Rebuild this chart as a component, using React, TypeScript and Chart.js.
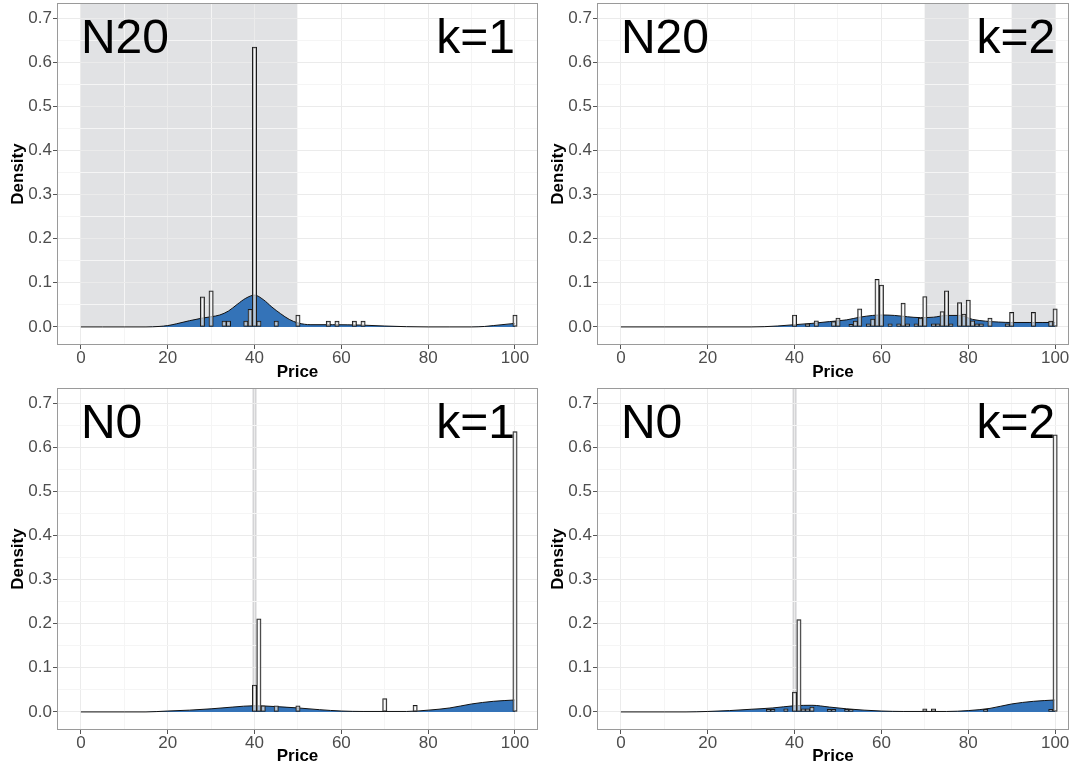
import React, { useEffect, useRef } from 'react';
import { Chart, registerables } from 'chart.js';

Chart.register(...registerables);

// ---------- shared axis ticks ----------
const xTickValues = [0, 10, 20, 30, 40, 50, 60, 70, 80, 90, 100];
const xTickLabels = ['0', '', '20', '', '40', '', '60', '', '80', '', '100'];
const yTickValues = [0, 0.05, 0.1, 0.15, 0.2, 0.25, 0.3, 0.35, 0.4, 0.45, 0.5, 0.55, 0.6, 0.65, 0.7];
const yTickLabels = ['0.0', '', '0.1', '', '0.2', '', '0.3', '', '0.4', '', '0.5', '', '0.6', '', '0.7'];
const xAxisTitle = 'Price';
const yAxisTitle = 'Density';

// ---------- panel 1: N20, k=1 ----------
const p1Tag = 'N20';
const p1K = 'k=1';
const p1BinPrice = [28, 30, 33, 34, 38, 39, 40, 41, 45, 50, 57, 59, 63, 65, 100];
const p1BinDensity = [0.068, 0.082, 0.013, 0.013, 0.013, 0.04, 0.634, 0.013, 0.013, 0.027, 0.013, 0.013, 0.013, 0.013, 0.027];
const p1CurvePrice = [0, 5, 10, 15, 18, 20, 22, 25, 28, 30, 32, 34, 36, 38, 40, 42, 44, 46, 48, 50, 53, 58, 65, 70, 75, 80, 85, 90, 93, 95, 97, 100];
const p1CurveDensity = [0, 0, 0, 0, 0.001, 0.003, 0.007, 0.014, 0.02, 0.023, 0.027, 0.036, 0.051, 0.065, 0.072, 0.062, 0.045, 0.03, 0.017, 0.009, 0.005, 0.005, 0.004, 0.002, 0.0005, 0, 0, 0, 0.001, 0.003, 0.005, 0.008];
const p1Bands = [[0, 50]];
const p1Lines: number[] = [];

// ---------- panel 2: N20, k=2 ----------
const p2Tag = 'N20';
const p2K = 'k=2';
const p2BinPrice = [40, 43, 45, 49, 50, 53, 54, 55, 57, 58, 59, 60, 62, 64, 65, 66, 68, 69, 70, 72, 73, 74, 75, 76, 78, 79, 80, 81, 82, 83, 85, 89, 90, 95, 99, 100];
const p2BinDensity = [0.027, 0.007, 0.014, 0.012, 0.02, 0.006, 0.013, 0.041, 0.007, 0.018, 0.108, 0.095, 0.007, 0.007, 0.054, 0.007, 0.007, 0.02, 0.069, 0.007, 0.007, 0.035, 0.082, 0.007, 0.055, 0.029, 0.061, 0.014, 0.007, 0.007, 0.02, 0.007, 0.033, 0.033, 0.013, 0.041];
const p2CurvePrice = [0, 10, 20, 30, 33, 36, 40, 44, 48, 52, 55, 58, 60, 63, 66, 69, 72, 75, 78, 81, 84, 87, 90, 94, 97, 100];
const p2CurveDensity = [0, 0, 0, 0, 0.0005, 0.002, 0.005, 0.008, 0.012, 0.016, 0.022, 0.026, 0.027, 0.026, 0.023, 0.021, 0.022, 0.026, 0.026, 0.017, 0.013, 0.011, 0.01, 0.01, 0.01, 0.01];
const p2Bands = [[70, 80], [90, 100]];
const p2Lines: number[] = [];

// ---------- panel 3: N0, k=1 ----------
const p3Tag = 'N0';
const p3K = 'k=1';
const p3BinPrice = [40, 41, 42, 45, 50, 70, 77, 100];
const p3BinDensity = [0.061, 0.211, 0.014, 0.014, 0.014, 0.03, 0.015, 0.635];
const p3CurvePrice = [0, 10, 15, 20, 25, 30, 35, 40, 45, 50, 55, 60, 65, 70, 75, 80, 85, 90, 95, 100];
const p3CurveDensity = [0, 0, 0, 0.002, 0.004, 0.007, 0.011, 0.014, 0.012, 0.009, 0.005, 0.002, 0.001, 0.001, 0.001, 0.004, 0.009, 0.018, 0.024, 0.027];
const p3Bands: number[][] = [];
const p3Lines = [40];

// ---------- panel 4: N0, k=2 ----------
const p4Tag = 'N0';
const p4K = 'k=2';
const p4BinPrice = [34, 35, 38, 40, 41, 42, 43, 44, 48, 49, 52, 53, 70, 72, 84, 99, 100];
const p4BinDensity = [0.006, 0.006, 0.007, 0.045, 0.209, 0.007, 0.007, 0.011, 0.006, 0.006, 0.006, 0.006, 0.007, 0.007, 0.006, 0.006, 0.628];
const p4CurvePrice = [0, 10, 15, 20, 25, 30, 35, 40, 44, 48, 52, 56, 60, 65, 70, 75, 80, 85, 90, 95, 100];
const p4CurveDensity = [0, 0, 0, 0.001, 0.003, 0.006, 0.009, 0.014, 0.015, 0.011, 0.007, 0.004, 0.002, 0.001, 0.001, 0.001, 0.003, 0.008, 0.018, 0.024, 0.027];
const p4Bands: number[][] = [];
const p4Lines = [40];

const FONT = '"Liberation Sans", Arial, Helvetica, sans-serif';

type PanelProps = {
  left: number; top: number; width: number; height: number;
  xMax: number; xAxisH: number;
  binPrice: number[]; binDensity: number[];
  curvePrice: number[]; curveDensity: number[];
  bands: number[][]; lines: number[];
  tag: string; k: string;
};

function Panel(p: PanelProps) {
  const ref = useRef<HTMLCanvasElement>(null);
  useEffect(() => {
    const decor = {
      id: 'decor',
      beforeDraw(chart: any) {
        const { ctx, chartArea: a, scales } = chart;
        const x = scales.x, y = scales.y;
        ctx.save();
        ctx.beginPath();
        ctx.rect(a.left, a.top, a.right - a.left, a.bottom - a.top);
        ctx.clip();
        const y0 = y.getPixelForValue(0);
        ctx.fillStyle = '#e1e2e4';
        for (const b of p.bands) {
          const l = x.getPixelForValue(b[0]);
          const r = x.getPixelForValue(b[1]);
          ctx.fillRect(l, a.top, r - l, y0 - a.top);
        }
        ctx.strokeStyle = '#d4d4d6';
        ctx.lineWidth = 4;
        for (const v of p.lines) {
          const px = x.getPixelForValue(v);
          ctx.beginPath();
          ctx.moveTo(px, y0);
          ctx.lineTo(px, a.top);
          ctx.stroke();
        }
        ctx.restore();
      },
      afterDraw(chart: any) {
        const { ctx, chartArea: a, scales } = chart;
        const x = scales.x, y = scales.y;
        ctx.save();
        ctx.strokeStyle = '#9a9a9a';
        ctx.lineWidth = 1;
        ctx.strokeRect(a.left + 0.5, a.top + 0.5, a.right - a.left - 1, a.bottom - a.top - 1);
        ctx.fillStyle = '#000';
        ctx.font = `48px ${FONT}`;
        ctx.textBaseline = 'alphabetic';
        const base = y.getPixelForValue(0.7) + 34.5;
        ctx.textAlign = 'left';
        ctx.fillText(p.tag, x.getPixelForValue(0), base);
        ctx.textAlign = 'right';
        ctx.fillText(p.k, x.getPixelForValue(100), base);
        ctx.restore();
      },
    };

    const chart = new Chart(ref.current as HTMLCanvasElement, {
      type: 'bar',
      data: {
        datasets: [
          {
            type: 'bar',
            data: p.binPrice.map((v, i) => ({ x: v, y: p.binDensity[i] })),
            backgroundColor: 'rgba(255,255,255,0.6)',
            borderColor: '#1a1a1a',
            borderWidth: 1,
            borderSkipped: false,
            barPercentage: 1,
            categoryPercentage: 1,
            grouped: false,
            order: 0,
          } as any,
          {
            type: 'line',
            data: p.curvePrice.map((v, i) => ({ x: v, y: p.curveDensity[i] })),
            fill: 'origin',
            backgroundColor: '#3473b8',
            borderColor: '#111',
            borderWidth: 1,
            pointRadius: 0,
            cubicInterpolationMode: 'monotone',
            order: 1,
          } as any,
        ],
      },
      options: {
        animation: false,
        responsive: false,
        maintainAspectRatio: false,
        layout: { padding: { left: 0, top: 3, right: 2, bottom: 0 } },
        plugins: { legend: { display: false }, tooltip: { enabled: false } },
        scales: {
          x: {
            type: 'linear',
            offset: false,
            min: -5.5,
            max: p.xMax,
            afterBuildTicks: (s: any) => { s.ticks = xTickValues.map((v) => ({ value: v })); },
            afterFit: (s: any) => { s.height = p.xAxisH; s.paddingLeft = 0; s.paddingRight = 0; },
            border: { display: false },
            grid: {
              offset: false,
              color: (c: any) => (c.tick && c.tick.value % 20 === 0 ? '#ebebeb' : '#f5f5f5'),
              lineWidth: 1,
              tickLength: 4,
              tickColor: (c: any) => (c.tick && c.tick.value % 20 === 0 ? '#555' : 'rgba(0,0,0,0)'),
            },
            ticks: {
              autoSkip: false,
              maxRotation: 0,
              padding: -1,
              color: '#4d4d4d',
              font: { family: FONT, size: 17 },
              callback: (_v: any, i: number) => xTickLabels[i],
            },
            title: {
              display: true,
              text: xAxisTitle,
              color: '#000',
              font: { family: FONT, size: 17, weight: 'bold' },
              padding: { top: 0, bottom: 2 },
            },
          },
          y: {
            type: 'linear',
            min: -0.041,
            max: 0.734,
            afterBuildTicks: (s: any) => { s.ticks = yTickValues.map((v) => ({ value: v })); },
            afterFit: (s: any) => { s.width = 57; s.paddingTop = 0; s.paddingBottom = 0; },
            border: { display: false },
            grid: {
              color: (c: any) => (c.tick && Math.round(c.tick.value * 100) % 10 === 0 ? '#ebebeb' : '#f5f5f5'),
              lineWidth: 1,
              tickLength: 4,
              tickColor: (c: any) => (c.tick && Math.round(c.tick.value * 100) % 10 === 0 ? '#555' : 'rgba(0,0,0,0)'),
            },
            ticks: {
              autoSkip: false,
              padding: 1,
              color: '#4d4d4d',
              font: { family: FONT, size: 17 },
              callback: (_v: any, i: number) => yTickLabels[i],
            },
            title: {
              display: true,
              text: yAxisTitle,
              color: '#000',
              font: { family: FONT, size: 17, weight: 'bold' },
              padding: { top: 8, bottom: 0 },
            },
          },
        },
      },
      plugins: [decor],
    } as any);
    return () => chart.destroy();
  }, []);
  return (
    <canvas
      ref={ref}
      width={p.width}
      height={p.height}
      style={{ position: 'absolute', left: p.left, top: p.top, width: p.width, height: p.height }}
    />
  );
}

export default function App() {
  return (
    <div style={{ position: 'absolute', left: 0, top: 0, width: 1071, height: 769, background: '#fff', overflow: 'hidden' }}>
      <Panel left={0} top={0} width={540} height={385} xMax={105.3} xAxisH={40}
        binPrice={p1BinPrice} binDensity={p1BinDensity} curvePrice={p1CurvePrice} curveDensity={p1CurveDensity}
        bands={p1Bands} lines={p1Lines} tag={p1Tag} k={p1K} />
      <Panel left={540} top={0} width={531} height={385} xMax={103.2} xAxisH={40}
        binPrice={p2BinPrice} binDensity={p2BinDensity} curvePrice={p2CurvePrice} curveDensity={p2CurveDensity}
        bands={p2Bands} lines={p2Lines} tag={p2Tag} k={p2K} />
      <Panel left={0} top={385} width={540} height={384} xMax={105.3} xAxisH={39}
        binPrice={p3BinPrice} binDensity={p3BinDensity} curvePrice={p3CurvePrice} curveDensity={p3CurveDensity}
        bands={p3Bands} lines={p3Lines} tag={p3Tag} k={p3K} />
      <Panel left={540} top={385} width={531} height={384} xMax={103.2} xAxisH={39}
        binPrice={p4BinPrice} binDensity={p4BinDensity} curvePrice={p4CurvePrice} curveDensity={p4CurveDensity}
        bands={p4Bands} lines={p4Lines} tag={p4Tag} k={p4K} />
    </div>
  );
}
